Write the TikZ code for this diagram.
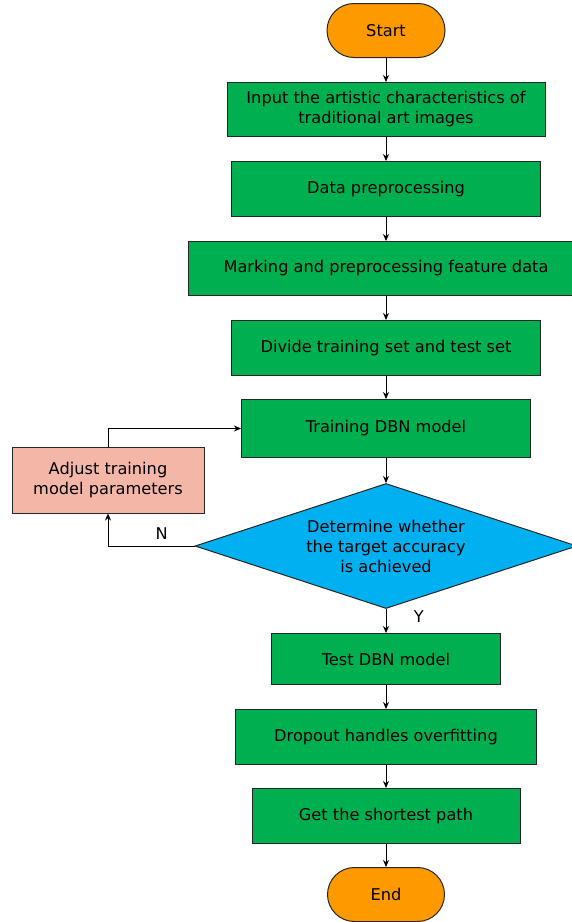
\documentclass[tikz,border=0pt]{standalone}
\usepackage{fontspec}
\setmainfont{DejaVu Sans}
\usetikzlibrary{shapes.geometric,arrows.meta,positioning}

\definecolor{boxgreen}{HTML}{00B050}
\definecolor{termorange}{HTML}{FF9900}
\definecolor{adjpink}{HTML}{F4B7A7}
\definecolor{decblue}{HTML}{00B0F0}

\tikzset{
  every node/.style={font=\fontsize{16.2pt}{20pt}\selectfont, text=black},
  stepbox/.style={rectangle, draw=black!85, line width=1pt, fill=boxgreen, minimum height=55pt, align=center},
  terminal/.style={rectangle, rounded corners=27pt, draw=black!85, line width=1pt, fill=termorange, minimum width=118pt, minimum height=54pt},
  adjbox/.style={rectangle, draw=black!85, line width=1pt, fill=adjpink, minimum width=192pt, minimum height=66pt, align=center},
  decision/.style={diamond, draw=black!85, line width=1pt, fill=decblue, aspect=3.05, inner sep=0pt, minimum width=382pt, minimum height=125pt, align=center},
  arrow/.style={-{Stealth[length=7pt,width=6pt]}, line width=1pt, black}
}

\begin{document}
\begin{tikzpicture}[node distance=24pt]
    \useasboundingbox (0,0) rectangle (572pt,-922pt);
    \node(start) [terminal] at (386pt,-30.5pt) {Start};
    \node(input) [stepbox, minimum width=318pt, minimum height=54pt, below = of start]{Input the artistic characteristics of\\traditional art images};
    \node(prep) [stepbox, minimum width=309pt, below = of input]{Data preprocessing};
    \node(mark) [stepbox, minimum width=395pt, minimum height=54pt, below = of prep]{Marking and preprocessing feature data};
    \node(divide) [stepbox, minimum width=309pt, below = of mark]{Divide training set and test set};
    \node(train) [stepbox, minimum width=289pt, minimum height=58pt, below = 23pt of divide]{Training DBN model};
    \node(decide) [decision, below = 25pt of train]{Determine whether\\the target accuracy\\is achieved};
    \node(test) [stepbox, minimum width=229pt, minimum height=51pt, below = of decide]{Test DBN model};
    \node(dropout) [stepbox, minimum width=301pt, below = of test]{Dropout handles overfitting};
    \node(path) [stepbox, minimum width=268pt, below = 23pt of dropout]{Get the shortest path};
    \node(end) [terminal, minimum width=117pt, below = 23pt of path]{End};
    \node(adjust) [adjbox] at (108pt,-480pt) {Adjust training\\model parameters};

    \foreach \a/\b in {start/input, input/prep, prep/mark, mark/divide, divide/train, train/decide, dropout/path, test/dropout, path/end}
      \draw[arrow] (\a) -- (\b);
    \draw[arrow] (decide) -- node[pos=0.3, right=24pt]{Y} (test);
    \draw[arrow] (decide.west) -| node[pos=0.19, above=3pt]{N} (adjust.south);
    \draw[arrow] (adjust.north) |- (train.west);
  \end{tikzpicture}
\end{document}
